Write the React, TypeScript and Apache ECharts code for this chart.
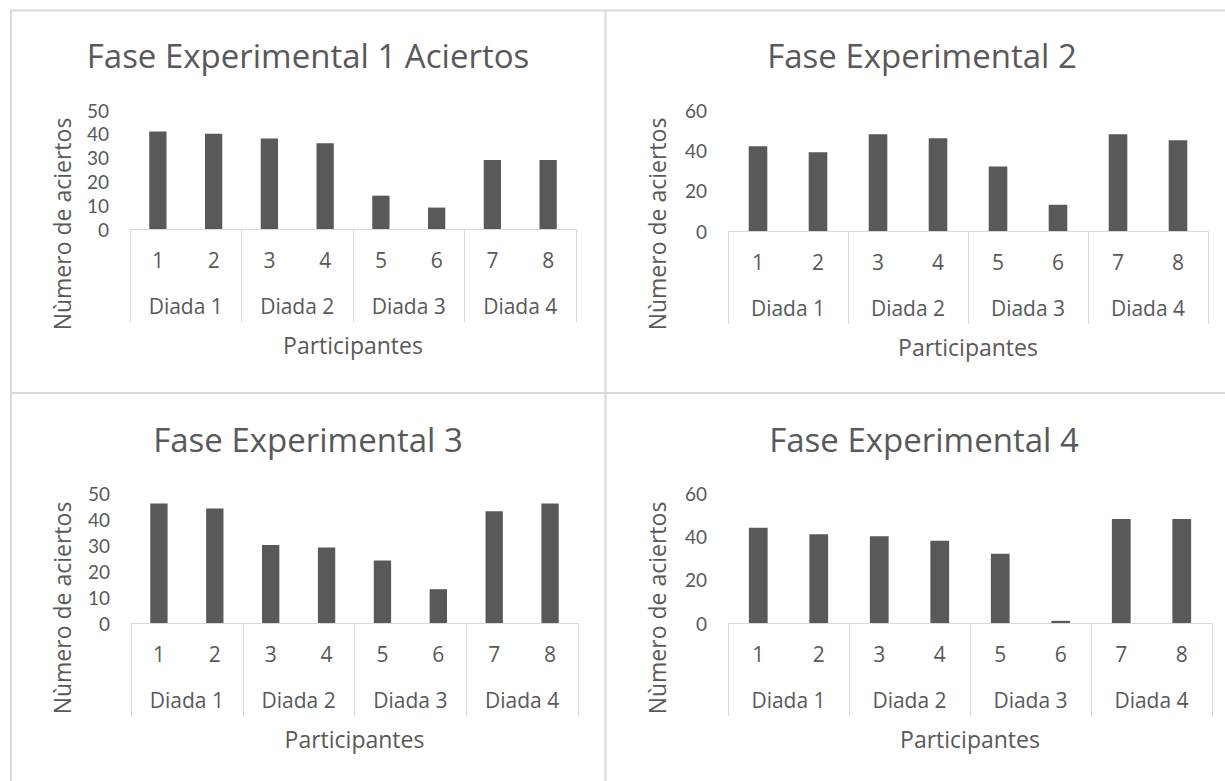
import React, { useEffect, useRef } from "react";
import * as echarts from "echarts";

const participants = ["1", "2", "3", "4", "5", "6", "7", "8"];
const dyads = ["Diada 1", "Diada 2", "Diada 3", "Diada 4"];
const titles = [
  "Fase Experimental 1 Aciertos",
  "Fase Experimental 2",
  "Fase Experimental 3",
  "Fase Experimental 4",
];
const yAxisTitle = "Nùmero de aciertos";
const xAxisTitle = "Participantes";
const phase1 = [41, 40, 38, 36, 14, 9, 29, 29];
const phase2 = [42, 39, 48, 46, 32, 13, 48, 45];
const phase3 = [46, 44, 30, 29, 24, 13, 43, 46];
const phase4 = [44, 41, 40, 38, 32, 1, 48, 48];
const yMaxes = [50, 60, 50, 60];
const yIntervals = [10, 20, 10, 20];

const FONT = "'Open Sans', 'Noto Sans', sans-serif";
const YFONT = "Lato, 'Open Sans', sans-serif";
const TEXT = "#595959";
const LINE = "#d9d9d9";
const BAR = "#595959";

export default function App() {
  const ref = useRef<HTMLDivElement>(null);

  useEffect(() => {
    document.body.style.margin = "0";
    if (!ref.current) return;
    const chart = echarts.init(ref.current, null, { renderer: "svg" });

    const seriesData = [phase1, phase2, phase3, phase4];
    const grids = [
      { left: 130, top: 110, width: 446, height: 119 },
      { left: 728, top: 110, width: 480, height: 121 },
      { left: 131, top: 493, width: 447, height: 130 },
      { left: 728, top: 493, width: 484, height: 130 },
    ];
    const titlePos = [
      [308, 55],
      [922, 55],
      [308, 439],
      [924, 439],
    ];
    const yTitlePos = [
      [62, 224],
      [657, 224],
      [62, 608],
      [657, 608],
    ];

    const xAxes: any[] = [];
    const yAxes: any[] = [];
    const series: any[] = [];
    const graphics: any[] = [];

    grids.forEach((g, i) => {
      xAxes.push({
        type: "category",
        gridIndex: i,
        data: participants,
        position: "bottom",
        axisLine: { show: true, lineStyle: { color: LINE, width: 1 } },
        axisTick: { show: false },
        axisLabel: { color: TEXT, fontSize: 21, fontFamily: FONT, margin: 20 },
        splitLine: { show: false },
      });
      xAxes.push({
        type: "category",
        gridIndex: i,
        data: dyads,
        position: "bottom",
        axisLine: { show: false },
        axisTick: { show: true, interval: 0, length: 93, lineStyle: { color: LINE, width: 1 } },
        axisLabel: { color: TEXT, fontSize: 21, fontFamily: FONT, margin: 66, interval: 0 },
        splitLine: { show: false },
      });
      yAxes.push({
        type: "value",
        gridIndex: i,
        min: 0,
        max: yMaxes[i],
        interval: yIntervals[i],
        axisLine: { show: false },
        axisTick: { show: false },
        splitLine: { show: false },
        axisLabel: { color: TEXT, fontSize: 19, lineHeight: 19, fontFamily: YFONT, margin: 21 },
      });
      series.push({
        type: "bar",
        xAxisIndex: i * 2,
        yAxisIndex: i,
        data: seriesData[i],
        barWidth: "31%",
        itemStyle: { color: BAR },
      });
      graphics.push({
        type: "text",
        x: titlePos[i][0],
        y: titlePos[i][1],
        style: {
          text: titles[i],
          fill: TEXT,
          font: `33px ${FONT}`,
          align: "center",
          verticalAlign: "middle",
        },
      });
      graphics.push({
        type: "text",
        x: yTitlePos[i][0],
        y: yTitlePos[i][1],
        rotation: Math.PI / 2,
        style: {
          text: yAxisTitle,
          fill: TEXT,
          font: `23px ${FONT}`,
          align: "center",
          verticalAlign: "middle",
        },
      });
      graphics.push({
        type: "text",
        x: g.left + g.width / 2,
        y: g.top + g.height + 116,
        style: {
          text: xAxisTitle,
          fill: TEXT,
          font: `23px ${FONT}`,
          align: "center",
          verticalAlign: "middle",
        },
      });
    });

    const borderLines = [
      [10, 10.5, 1225, 10.5],
      [11, 10, 11, 781],
      [605.5, 10, 605.5, 781],
      [10, 393, 1225, 393],
    ];
    borderLines.forEach((l) => {
      graphics.push({
        type: "line",
        shape: { x1: l[0], y1: l[1], x2: l[2], y2: l[3] },
        style: { stroke: LINE, lineWidth: 2 },
        silent: true,
      });
    });

    chart.setOption({
      animation: false,
      backgroundColor: "#ffffff",
      textStyle: { fontFamily: FONT },
      grid: grids.map((g) => ({ ...g, containLabel: false })),
      xAxis: xAxes,
      yAxis: yAxes,
      series,
      graphic: graphics,
    });

    return () => chart.dispose();
  }, []);

  return <div ref={ref} style={{ width: 1225, height: 781 }} />;
}
